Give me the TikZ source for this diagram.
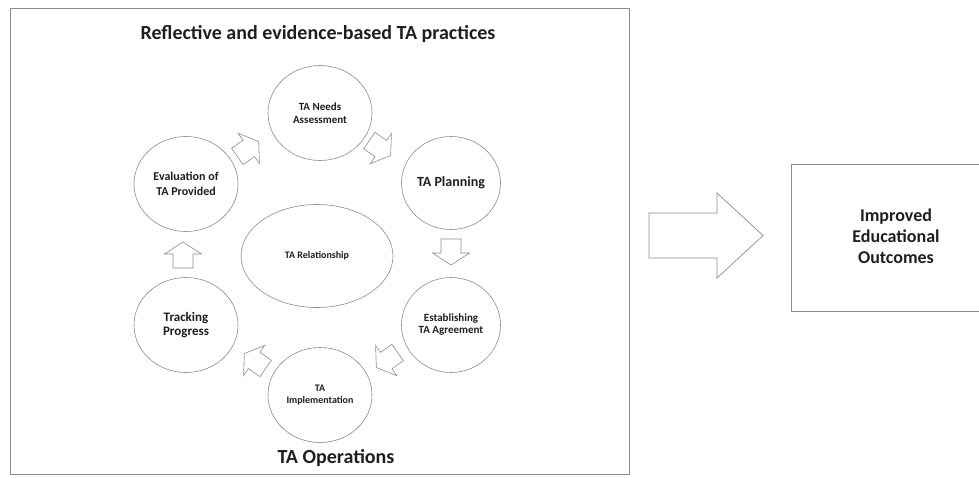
\documentclass[tikz,border=0pt]{standalone}
\usepackage{fontspec}
\setmainfont{Carlito}
\usetikzlibrary{shapes.geometric}
\definecolor{linegray}{gray}{0.55}
\definecolor{txt}{gray}{0.12}
\tikzset{
  stage/.style={ellipse, draw=linegray, line width=0.6pt, inner sep=0pt,
    minimum width=104pt, minimum height=95pt, align=center, text=txt},
  lbl/.style={text=txt, align=center, inner sep=0pt},
  blockarrow/.pic={\draw[linegray, line width=0.6pt, line join=miter]
    (-13,-10) -- (1,-10) -- (1,-18.5) -- (13,0) -- (1,18.5) -- (1,10) -- (-13,10) -- cycle;},
  fs/.style 2 args={font=\fontsize{#1}{#2}\selectfont\bfseries}
}
\begin{document}
\begin{tikzpicture}[x=1pt,y=-1pt]
\useasboundingbox (0,0) rectangle (979,477);
\clip (0,0) rectangle (979,477);
\fill[white] (0,0) rectangle (979,477);
% outer frame
\draw[linegray, line width=0.8pt] (10,8) rectangle (629,474);
\node[lbl, fs={20}{23}] (title) at (318,34) {Reflective and evidence-based TA practices};
\node[lbl, fs={20}{23}] (ops) at (336,458) {TA Operations};
% stages
\node[stage, fs={11}{13}] (needs) at (320,113) {TA Needs\\Assessment};
\node[stage, fs={14}{16}, minimum width=99pt, minimum height=93pt] (plan) at (451,183) {TA Planning};
\node[stage, fs={11}{12}, minimum width=99pt] (agree) at (451,325) {Establishing\\TA Agreement};
\node[stage, fs={10}{12}] (impl) at (320,395) {TA\\Implementation};
\node[stage, fs={13}{14}] (track) at (186,325) {Tracking\\Progress};
\node[stage, fs={12}{15}] (eval) at (186,184) {Evaluation of\\TA Provided};
\node[stage, fs={10}{12}, minimum width=152pt, minimum height=103pt] (rel) at (317,256) {TA Relationship};
% cycle arrows
\pic[rotate=35] (a1) at (248,149) {blockarrow};
\pic[rotate=-35] (a2) at (380,148) {blockarrow};
\pic[rotate=-90] (a3) at (451,252) {blockarrow};
\pic[rotate=-145] (a4) at (387,360) {blockarrow};
\pic[rotate=145] (a5) at (255,361) {blockarrow};
\pic[rotate=90] (a6) at (183,255) {blockarrow};
% big arrow
\draw[linegray, line width=0.7pt, line join=miter] (649,213) -- (717,213) -- (717,193) -- (763,235.5) -- (717,278) -- (717,258) -- (649,258) -- cycle;
% outcome box
\node[lbl, fs={18}{21}] (out) at (896,236) {Improved\\Educational\\Outcomes};
\draw[linegray, line width=0.8pt] (989,164) -- (791,164) -- (791,311) -- (989,311) -- cycle;
\end{tikzpicture}
\end{document}
